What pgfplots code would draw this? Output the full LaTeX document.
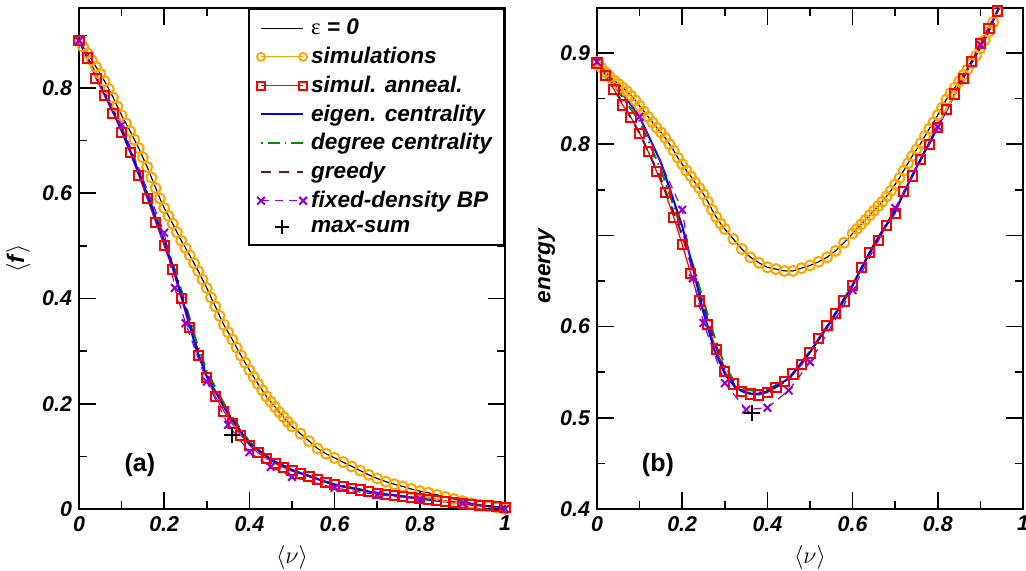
\documentclass[border=0pt]{standalone}
\usepackage{fontspec}
\setmainfont{Liberation Sans}
\newfontfamily\serif{Liberation Serif}
\usepackage{pgfplots}
\usepackage{pgfplotstable}
\pgfplotsset{compat=1.18}

\definecolor{simor}{HTML}{FFA500}
\definecolor{sared}{HTML}{FF0000}
\definecolor{eigblue}{HTML}{0000FF}
\definecolor{deggreen}{HTML}{008B00}
\definecolor{greedyc}{HTML}{6E1050}
\definecolor{bpviolet}{HTML}{9400D3}

% ---- panel (a): <f> vs <nu> ----
\pgfplotstableread{
v f
0.00 0.890
0.01 0.878
0.02 0.866
0.03 0.853
0.04 0.840
0.05 0.827
0.06 0.813
0.07 0.798
0.08 0.782
0.09 0.765
0.10 0.748
0.11 0.733
0.12 0.718
0.13 0.702
0.14 0.686
0.15 0.668
0.16 0.650
0.17 0.630
0.18 0.610
0.19 0.590
0.20 0.572
0.21 0.557
0.22 0.542
0.23 0.526
0.24 0.510
0.25 0.496
0.26 0.482
0.27 0.467
0.28 0.452
0.29 0.436
0.30 0.420
0.31 0.402
0.32 0.385
0.33 0.367
0.34 0.350
0.35 0.336
0.36 0.322
0.37 0.307
0.38 0.292
0.39 0.278
0.40 0.264
0.41 0.251
0.42 0.238
0.43 0.226
0.44 0.214
0.45 0.204
0.46 0.194
0.47 0.184
0.48 0.175
0.49 0.166
0.50 0.157
0.52 0.143
0.54 0.129
0.56 0.115
0.58 0.105
0.60 0.097
0.62 0.089
0.64 0.081
0.66 0.073
0.68 0.065
0.70 0.058
0.72 0.052
0.74 0.047
0.76 0.043
0.78 0.038
0.80 0.034
0.82 0.031
0.84 0.027
0.86 0.023
0.88 0.019
0.90 0.015
0.92 0.011
0.94 0.008
0.96 0.005
0.98 0.003
1.00 0.000
}\simA

\pgfplotstableread{
v f
0.00 0.890
0.02 0.857
0.04 0.818
0.06 0.785
0.08 0.752
0.10 0.716
0.12 0.677
0.14 0.634
0.16 0.590
0.18 0.545
0.20 0.500
0.22 0.455
0.24 0.400
0.26 0.345
0.28 0.292
0.30 0.250
0.32 0.214
0.34 0.186
0.36 0.162
0.38 0.140
0.40 0.121
0.42 0.107
0.44 0.096
0.46 0.087
0.48 0.079
0.50 0.073
0.52 0.067
0.54 0.062
0.56 0.056
0.58 0.051
0.60 0.046
0.62 0.042
0.64 0.039
0.66 0.036
0.68 0.033
0.70 0.030
0.72 0.028
0.74 0.026
0.76 0.024
0.78 0.022
0.80 0.020
0.82 0.018
0.84 0.016
0.86 0.014
0.88 0.012
0.90 0.010
0.92 0.009
0.94 0.007
0.96 0.006
0.98 0.004
1.00 0.003
}\saA

\pgfplotstableread{
v eig deg gre
0.000 0.890 0.890 0.890
0.050 0.808 0.810 0.806
0.100 0.722 0.724 0.720
0.150 0.620 0.622 0.618
0.200 0.508 0.515 0.512
0.225 0.448 0.455 0.450
0.250 0.378 0.390 0.385
0.275 0.305 0.320 0.312
0.300 0.252 0.262 0.255
0.350 0.180 0.186 0.182
0.400 0.124 0.128 0.125
0.450 0.094 0.095 0.094
0.500 0.074 0.074 0.073
0.600 0.046 0.047 0.046
0.700 0.030 0.031 0.030
0.800 0.020 0.020 0.020
0.900 0.010 0.011 0.011
1.000 0.002 0.002 0.002
}\othA

\pgfplotstableread{
v f
0.000 0.890
0.100 0.730
0.200 0.525
0.225 0.420
0.250 0.353
0.300 0.242
0.350 0.160
0.400 0.108
0.450 0.080
0.500 0.061
0.600 0.040
0.700 0.027
0.800 0.019
0.900 0.011
1.000 0.000
}\bpA

% ---- panel (b): energy vs <nu> ----
\pgfplotstableread{
v e
0.00 0.890
0.01 0.884
0.02 0.879
0.03 0.874
0.04 0.870
0.05 0.866
0.06 0.862
0.07 0.858
0.08 0.853
0.09 0.848
0.10 0.842
0.11 0.836
0.12 0.830
0.13 0.824
0.14 0.818
0.15 0.813
0.16 0.807
0.17 0.800
0.18 0.793
0.19 0.785
0.20 0.778
0.21 0.771
0.22 0.765
0.23 0.758
0.24 0.752
0.25 0.745
0.26 0.737
0.27 0.728
0.28 0.720
0.29 0.713
0.30 0.707
0.32 0.696
0.34 0.685
0.36 0.676
0.38 0.670
0.40 0.665
0.42 0.663
0.44 0.661
0.46 0.661
0.48 0.664
0.50 0.667
0.52 0.671
0.54 0.676
0.56 0.683
0.58 0.692
0.60 0.702
0.61 0.707
0.62 0.712
0.63 0.717
0.64 0.722
0.65 0.727
0.66 0.732
0.67 0.737
0.68 0.743
0.69 0.749
0.70 0.756
0.71 0.763
0.72 0.771
0.73 0.779
0.74 0.787
0.75 0.794
0.76 0.801
0.77 0.809
0.78 0.817
0.79 0.824
0.80 0.832
0.81 0.840
0.82 0.849
0.83 0.856
0.84 0.862
0.85 0.869
0.86 0.876
0.87 0.882
0.88 0.889
0.89 0.897
0.90 0.905
0.91 0.914
0.92 0.923
0.93 0.934
0.94 0.946
0.945 0.950
}\simB

\pgfplotstableread{
v e
0.00 0.889
0.02 0.875
0.04 0.860
0.06 0.843
0.08 0.829
0.10 0.812
0.12 0.792
0.14 0.770
0.16 0.747
0.18 0.720
0.20 0.690
0.22 0.658
0.24 0.628
0.26 0.602
0.28 0.575
0.30 0.551
0.32 0.537
0.34 0.529
0.36 0.526
0.38 0.525
0.40 0.528
0.42 0.533
0.44 0.540
0.46 0.548
0.48 0.558
0.50 0.571
0.52 0.587
0.54 0.601
0.56 0.614
0.58 0.628
0.60 0.645
0.62 0.665
0.64 0.681
0.66 0.694
0.68 0.711
0.70 0.724
0.72 0.748
0.74 0.765
0.76 0.783
0.78 0.800
0.80 0.818
0.82 0.838
0.84 0.855
0.86 0.872
0.88 0.891
0.90 0.910
0.92 0.927
0.94 0.946
0.945 0.950
}\saB

\pgfplotstableread{
v eig deg gre
0.000 0.889 0.889 0.889
0.050 0.862 0.858 0.853
0.100 0.830 0.825 0.812
0.150 0.780 0.772 0.762
0.200 0.710 0.705 0.700
0.225 0.665 0.668 0.662
0.250 0.615 0.628 0.622
0.275 0.575 0.590 0.585
0.300 0.548 0.557 0.552
0.325 0.533 0.538 0.535
0.350 0.527 0.531 0.528
0.375 0.526 0.529 0.526
0.400 0.529 0.531 0.528
0.450 0.543 0.543 0.542
0.500 0.572 0.573 0.572
0.550 0.606 0.607 0.607
0.600 0.645 0.646 0.646
0.650 0.690 0.690 0.689
0.700 0.727 0.728 0.727
0.750 0.775 0.775 0.774
0.800 0.819 0.820 0.818
0.850 0.864 0.865 0.864
0.900 0.909 0.910 0.909
0.950 0.955 0.955 0.955
}\othB

\pgfplotstableread{
v e
0.000 0.890
0.100 0.830
0.200 0.728
0.225 0.653
0.250 0.604
0.300 0.538
0.350 0.509
0.400 0.511
0.450 0.530
0.500 0.561
0.600 0.640
0.700 0.730
0.800 0.819
0.900 0.909
0.950 0.955
}\bpB

\pgfplotsset{
  panel/.style={
    scale only axis, width=213pt, height=250.5pt,
    xmin=0, xmax=1,
    xtick={0,0.2,0.4,0.6,0.8,1},
    xticklabels={0,0.2,0.4,0.6,0.8,1},
    minor xtick={0.1,0.3,0.5,0.7,0.9},
    axis line style={line width=1pt},
    major tick length=8.5pt, minor tick length=4pt,
    every tick/.style={black, line width=0.8pt},
    tick label style={font=\fontsize{10.7}{12}\selectfont\bfseries\itshape},
    /pgf/number format/assume math mode=true,
    xlabel={$\langle\nu\rangle$},
    xlabel style={font=\fontsize{12}{14}\selectfont, at={(axis description cs:0.5,-0.096)}, anchor=center},
    clip=true,
  },
  simline/.style={simor, line width=0.6pt},
  simmark/.style={simor, only marks, mark=o, mark size=2.5pt, mark options={line width=1pt}},
  saline/.style={sared, line width=0.6pt, mark=square, mark size=2.3pt, mark options={line width=1pt, solid}},
  epsline/.style={black, line width=0.5pt},
  eigline/.style={eigblue, line width=1pt},
  degline/.style={deggreen, line width=1pt, dash pattern=on 0.8pt off 2.5pt on 6pt off 2.5pt},
  greline/.style={greedyc, line width=1pt, dash pattern=on 5pt off 4pt},
  bpline/.style={bpviolet, line width=0.6pt, dash pattern=on 4pt off 3pt, mark=x, mark size=2.7pt, mark options={line width=1pt, solid}},
  msmark/.style={black, only marks, mark=+, mark size=4pt, mark options={line width=1pt}},
  endmarks legend/.style={legend image code/.code={\draw[mark repeat=2, mark phase=1, ##1] plot coordinates {(0cm,0cm) (0.37cm,0cm) (0.74cm,0cm)};}},
  onemark legend/.style={legend image code/.code={\draw[##1] plot coordinates {(0.37cm,0cm)};}},
}

\begin{document}
\begin{tikzpicture}
\useasboundingbox (0,0) rectangle (513pt,285.5pt);

% ---------- (a) ----------
\begin{axis}[panel,
  at={(39.5pt,31pt)}, anchor=south west,
  ymin=0, ymax=0.952,
  ytick={0,0.2,0.4,0.6,0.8}, yticklabels={0,0.2,0.4,0.6,0.8},
  minor ytick={0.1,0.3,0.5,0.7,0.9},
  ylabel={$\langle$\textbf{\textit{f}}$\rangle$},
  ylabel style={font=\fontsize{12}{14}\selectfont, at={(axis description cs:-0.143,0.5)}, anchor=center},
  legend style={at={(1,1)}, anchor=north east, draw=black, line width=1pt,
    font=\fontsize{11.3}{13}\selectfont\bfseries\itshape,
    cells={anchor=west}, inner xsep=4pt, inner ysep=3pt, row sep=0.7pt,
    /tikz/every even column/.append style={column sep=1pt}},
  endmarks legend,
]
\addlegendimage{epsline, line width=0.8pt}
\addlegendentry{{\serif\mdseries\upshape ε} = 0}
\addlegendimage{simor, line width=0.6pt, mark=o, mark size=2pt, mark options={line width=0.9pt}}
\addlegendentry{simulations}
\addlegendimage{saline, mark size=2pt}
\addlegendentry{simul. anneal.}
\addlegendimage{eigline}
\addlegendentry{eigen. centrality}
\addlegendimage{degline}
\addlegendentry{degree centrality}
\addlegendimage{greline}
\addlegendentry{greedy}
\addlegendimage{bpline}
\addlegendentry{fixed-density BP}
\addlegendimage{msmark, mark size=3.5pt, onemark legend}
\addlegendentry{max-sum}

\addplot[simline, forget plot] table[x=v, y=f] {\simA};
\addplot[epsline, forget plot] table[x=v, y=f] {\simA};
\addplot[simmark, forget plot] table[x=v, y=f] {\simA};
\addplot[saline, forget plot] table[x=v, y=f] {\saA};
\addplot[degline, forget plot] table[x=v, y=deg] {\othA};
\addplot[greline, forget plot] table[x=v, y=gre] {\othA};
\addplot[eigline, forget plot] table[x=v, y=eig] {\othA};
\addplot[bpline, forget plot] table[x=v, y=f] {\bpA};
\addplot[msmark, forget plot] coordinates {(0.36,0.140)};

\node[font=\fontsize{12.5}{14}\selectfont\bfseries] at (axis cs:0.143,0.084) {(a)};
\end{axis}

% ---------- (b) ----------
\begin{axis}[panel,
  at={(298.5pt,31pt)}, anchor=south west,
  ymin=0.4, ymax=0.9493,
  ytick={0.4,0.5,0.6,0.7,0.8,0.9}, yticklabels={0.4,0.5,0.6,,0.8,0.9},
  minor ytick={0.45,0.55,0.65,0.75,0.85},
  ylabel={energy},
  ylabel style={font=\fontsize{11.3}{13}\selectfont\bfseries\itshape, at={(axis description cs:-0.118,0.485)}, anchor=center},
]
\addplot[simline] table[x=v, y=e] {\simB};
\addplot[epsline] table[x=v, y=e] {\simB};
\addplot[simmark] table[x=v, y=e] {\simB};
\addplot[saline] table[x=v, y=e] {\saB};
\addplot[degline] table[x=v, y=deg] {\othB};
\addplot[greline] table[x=v, y=gre] {\othB};
\addplot[eigline] table[x=v, y=eig] {\othB};
\addplot[bpline] table[x=v, y=e] {\bpB};
\addplot[msmark] coordinates {(0.363,0.505)};

\node[font=\fontsize{12.5}{14}\selectfont\bfseries] at (axis cs:0.143,0.448) {(b)};
\end{axis}
\end{tikzpicture}
\end{document}
